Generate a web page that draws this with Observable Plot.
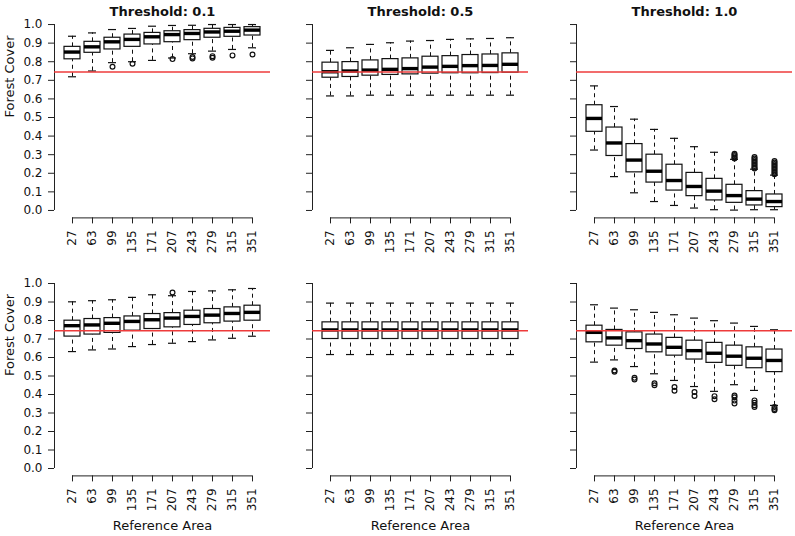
<!DOCTYPE html>
<html>
<head>
<meta charset="utf-8">
<script src="https://cdn.jsdelivr.net/npm/d3@7"></script>
<script src="https://cdn.jsdelivr.net/npm/@observablehq/plot@0.6"></script>
<style>
  html, body { margin: 0; padding: 0; background: #ffffff; }
  #chart { position: relative; width: 795px; height: 536px; background: #ffffff; overflow: hidden; }
  #chart svg { position: absolute; }
</style>
</head>
<body>
<div id="chart"></div>
<script>
// ---------- data ----------
const areas = [27, 63, 99, 135, 171, 207, 243, 279, 315, 351];
const thresholdTitles = ["Threshold: 0.1", "Threshold: 0.5", "Threshold: 1.0"];
const yTicks = [0, 0.1, 0.2, 0.3, 0.4, 0.5, 0.6, 0.7, 0.8, 0.9, 1.0];
const referenceLine = 0.745;
const yLabel = "Forest Cover";
const xLabel = "Reference Area";

// top row, threshold 0.1
const top01_hi  = [0.937, 0.955, 0.973, 0.979, 0.991, 0.995, 0.996, 1.000, 1.000, 1.000];
const top01_q3  = [0.880, 0.907, 0.929, 0.946, 0.955, 0.964, 0.970, 0.977, 0.982, 0.986];
const top01_med = [0.852, 0.880, 0.907, 0.920, 0.934, 0.946, 0.952, 0.960, 0.964, 0.970];
const top01_q1  = [0.813, 0.848, 0.866, 0.880, 0.893, 0.905, 0.916, 0.929, 0.934, 0.941];
const top01_lo  = [0.719, 0.750, 0.795, 0.800, 0.807, 0.820, 0.843, 0.857, 0.866, 0.875];
const top01_out = [[99, 0.773], [135, 0.789], [207, 0.814], [243, 0.825], [243, 0.818],
                   [279, 0.830], [279, 0.821], [315, 0.834], [351, 0.839]];

// top row, threshold 0.5
const top05_hi  = [0.861, 0.875, 0.893, 0.902, 0.911, 0.914, 0.920, 0.923, 0.925, 0.929];
const top05_q3  = [0.795, 0.798, 0.807, 0.814, 0.818, 0.827, 0.830, 0.836, 0.839, 0.845];
const top05_med = [0.746, 0.750, 0.755, 0.759, 0.763, 0.771, 0.775, 0.779, 0.780, 0.786];
const top05_q1  = [0.714, 0.718, 0.725, 0.729, 0.732, 0.736, 0.738, 0.738, 0.739, 0.741];
const top05_lo  = [0.616, 0.616, 0.620, 0.620, 0.620, 0.620, 0.620, 0.620, 0.620, 0.620];
const top05_out = [];

// top row, threshold 1.0
const top10_hi  = [0.670, 0.559, 0.491, 0.436, 0.388, 0.343, 0.313, 0.275, 0.222, 0.190];
const top10_q3  = [0.566, 0.446, 0.357, 0.300, 0.246, 0.202, 0.170, 0.138, 0.104, 0.086];
const top10_med = [0.495, 0.363, 0.271, 0.211, 0.161, 0.129, 0.104, 0.080, 0.061, 0.048];
const top10_q1  = [0.423, 0.293, 0.205, 0.150, 0.107, 0.077, 0.054, 0.041, 0.027, 0.018];
const top10_lo  = [0.325, 0.182, 0.095, 0.048, 0.027, 0.013, 0.004, 0.002, 0.004, 0.004];
const top10_out = [[279, 0.305], [279, 0.298], [279, 0.291], [279, 0.284], [279, 0.279],
                   [315, 0.287], [315, 0.279], [315, 0.271], [315, 0.263], [315, 0.255],
                   [315, 0.247], [315, 0.239], [315, 0.231], [315, 0.226],
                   [351, 0.266], [351, 0.258], [351, 0.250], [351, 0.242], [351, 0.234],
                   [351, 0.226], [351, 0.218], [351, 0.210], [351, 0.202], [351, 0.195]];

// bottom row, threshold 0.1
const bot01_hi  = [0.901, 0.907, 0.912, 0.925, 0.939, 0.934, 0.957, 0.960, 0.966, 0.973];
const bot01_q3  = [0.799, 0.808, 0.813, 0.822, 0.835, 0.840, 0.853, 0.862, 0.871, 0.880];
const bot01_med = [0.772, 0.776, 0.785, 0.795, 0.804, 0.813, 0.822, 0.829, 0.838, 0.844];
const bot01_q1  = [0.713, 0.724, 0.733, 0.745, 0.754, 0.763, 0.776, 0.785, 0.794, 0.799];
const bot01_lo  = [0.632, 0.641, 0.646, 0.659, 0.670, 0.677, 0.686, 0.695, 0.704, 0.715];
const bot01_out = [[207, 0.951]];

// bottom row, threshold 0.5
const bot05_hi  = [0.894, 0.894, 0.894, 0.894, 0.894, 0.894, 0.894, 0.894, 0.894, 0.894];
const bot05_q3  = [0.790, 0.790, 0.790, 0.790, 0.790, 0.790, 0.790, 0.790, 0.790, 0.790];
const bot05_med = [0.749, 0.749, 0.749, 0.749, 0.749, 0.749, 0.749, 0.749, 0.749, 0.749];
const bot05_q1  = [0.700, 0.700, 0.700, 0.700, 0.700, 0.700, 0.700, 0.700, 0.700, 0.700];
const bot05_lo  = [0.616, 0.616, 0.616, 0.616, 0.616, 0.616, 0.616, 0.616, 0.616, 0.616];
const bot05_out = [];

// bottom row, threshold 1.0
const bot10_hi  = [0.885, 0.867, 0.858, 0.844, 0.831, 0.813, 0.799, 0.786, 0.768, 0.750];
const bot10_q3  = [0.772, 0.749, 0.736, 0.724, 0.706, 0.691, 0.679, 0.664, 0.655, 0.643];
const bot10_med = [0.736, 0.706, 0.691, 0.673, 0.655, 0.637, 0.623, 0.607, 0.596, 0.584];
const bot10_q1  = [0.682, 0.664, 0.646, 0.628, 0.610, 0.589, 0.571, 0.555, 0.542, 0.521];
const bot10_lo  = [0.575, 0.587, 0.551, 0.512, 0.476, 0.443, 0.417, 0.453, 0.422, 0.341];
const bot10_out = [[63, 0.530], [63, 0.523], [99, 0.490], [99, 0.481], [135, 0.461], [135, 0.450],
                   [171, 0.440], [171, 0.420], [207, 0.413], [207, 0.392], [243, 0.391], [243, 0.374],
                   [279, 0.395], [279, 0.385], [279, 0.367], [279, 0.352],
                   [315, 0.368], [315, 0.355], [315, 0.342], [315, 0.333],
                   [351, 0.333], [351, 0.322], [351, 0.315]];

// ---------- build ----------
function boxes(hi, q3, med, q1, lo) {
  return areas.map((a, i) => ({pos: i + 1, area: a, hi: hi[i], q3: q3[i], med: med[i], q1: q1[i], lo: lo[i]}));
}
function outliers(list) {
  return list.map(([a, v]) => ({pos: areas.indexOf(a) + 1, v}));
}

const panels = [
  {row: 0, col: 0, b: boxes(top01_hi, top01_q3, top01_med, top01_q1, top01_lo), o: outliers(top01_out)},
  {row: 0, col: 1, b: boxes(top05_hi, top05_q3, top05_med, top05_q1, top05_lo), o: outliers(top05_out)},
  {row: 0, col: 2, b: boxes(top10_hi, top10_q3, top10_med, top10_q1, top10_lo), o: outliers(top10_out)},
  {row: 1, col: 0, b: boxes(bot01_hi, bot01_q3, bot01_med, bot01_q1, bot01_lo), o: outliers(bot01_out)},
  {row: 1, col: 1, b: boxes(bot05_hi, bot05_q3, bot05_med, bot05_q1, bot05_lo), o: outliers(bot05_out)},
  {row: 1, col: 2, b: boxes(bot10_hi, bot10_q3, bot10_med, bot10_q1, bot10_lo), o: outliers(bot10_out)}
];

const colLeft = [0, 257.5, 521.5];
const rowTop = [0, 260];

function panel({row, col, b, o}) {
  const isTop = row === 0;
  const width = 270;
  const marginLeft = 54;
  const marginTop = isTop ? 16.6 : 15.6;
  const plotH = isTop ? 200.8 : 199.8;
  const height = isTop ? 265 : 276;
  const marks = [
    // axis lines (R style: span first to last tick)
    Plot.ruleX([0.1], {y1: 0, y2: 1, stroke: "#222"}),
    Plot.ruleY([-0.04], {x1: 1, x2: 10, stroke: "#222"}),
    // whiskers
    Plot.ruleX(b, {x: "pos", y1: "q3", y2: "hi", stroke: "#111", strokeDasharray: "4,3.5"}),
    Plot.ruleX(b, {x: "pos", y1: "lo", y2: "q1", stroke: "#111", strokeDasharray: "4,3.5"}),
    Plot.ruleY(b, {y: "hi", x1: d => d.pos - 0.2, x2: d => d.pos + 0.2, stroke: "#111", strokeWidth: 1.2}),
    Plot.ruleY(b, {y: "lo", x1: d => d.pos - 0.2, x2: d => d.pos + 0.2, stroke: "#111", strokeWidth: 1.2}),
    // boxes
    Plot.rect(b, {x1: d => d.pos - 0.4, x2: d => d.pos + 0.4, y1: "q1", y2: "q3", fill: "white", stroke: "#111", strokeWidth: 1.2}),
    Plot.ruleY(b, {y: "med", x1: d => d.pos - 0.4, x2: d => d.pos + 0.4, stroke: "#000", strokeWidth: 3.4}),
    // outliers
    Plot.dot(o, {x: "pos", y: "v", r: 2.4, stroke: "#111", strokeWidth: 1.2, fill: "none"}),
    // reference line
    Plot.ruleY([referenceLine], {stroke: "#ee3b3b", strokeWidth: 1.5}),
    // axes
    Plot.axisY({ticks: yTicks, tickSize: 6, tickPadding: 6, label: null,
                tickFormat: col === 0 ? (d => d.toFixed(1)) : (() => ""), stroke: "#222"}),
    Plot.axisX({ticks: areas.map((a, i) => i + 1), tickFormat: p => String(areas[p - 1]),
                tickRotate: -90, tickSize: 6, tickPadding: 6.5, label: null, stroke: "#222"})
  ];
  if (isTop) {
    marks.push(Plot.text([thresholdTitles[col]], {frameAnchor: "top", dy: -10, text: d => d,
      fontSize: 13, fontWeight: "bold", fill: "#111"}));
  } else {
    marks.push(Plot.text([xLabel], {frameAnchor: "bottom", dy: 54, text: d => d, fontSize: 13, fill: "#111"}));
  }
  if (col === 0) {
    marks.push(Plot.text([yLabel], {frameAnchor: "left", dx: -45, rotate: -90, text: d => d, fontSize: 13, fill: "#111"}));
  }
  const svg = Plot.plot({
    width, height, marginLeft, marginRight: 0, marginTop, marginBottom: height - marginTop - plotH,
    x: {type: "linear", domain: [0.1, 10.9]},
    y: {type: "linear", domain: [-0.04, 1.04]},
    style: {fontFamily: "'DejaVu Sans', sans-serif", fontSize: "12px", background: "transparent", overflow: "visible", color: "#111"},
    marks
  });
  svg.style.left = colLeft[col] + "px";
  svg.style.top = rowTop[row] + "px";
  return svg;
}

const chart = document.getElementById("chart");
for (const p of panels) chart.appendChild(panel(p));
</script>
</body>
</html>
